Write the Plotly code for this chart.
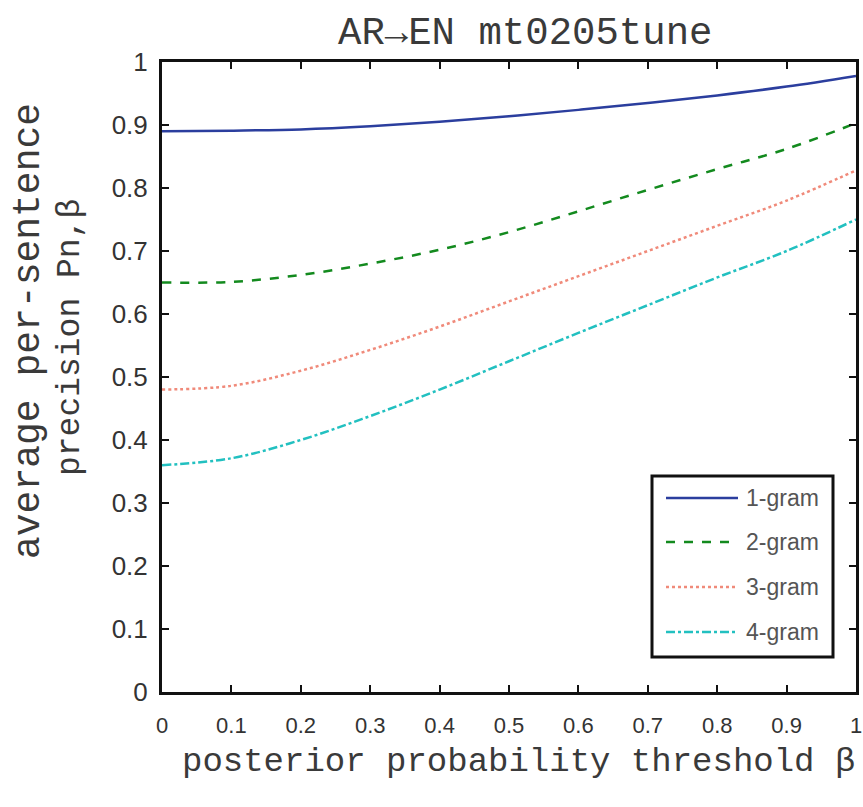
import plotly.graph_objects as go

beta = [0.0, 0.1, 0.2, 0.3, 0.4, 0.5, 0.6, 0.7, 0.8, 0.9, 1.0]
gram1 = [0.890, 0.891, 0.893, 0.898, 0.905, 0.914, 0.924, 0.935, 0.947, 0.961, 0.978]
gram2 = [0.650, 0.651, 0.662, 0.680, 0.702, 0.730, 0.763, 0.797, 0.830, 0.862, 0.903]
gram3 = [0.480, 0.486, 0.510, 0.543, 0.580, 0.620, 0.660, 0.700, 0.740, 0.780, 0.828]
gram4 = [0.360, 0.371, 0.400, 0.438, 0.480, 0.525, 0.570, 0.614, 0.658, 0.700, 0.750]

names = ["1-gram", "2-gram", "3-gram", "4-gram"]
colors = ["#2b3e9e", "#138a1e", "#f08a7a", "#22c0c0"]
dashes = ["solid", "dash", "dot", "dashdot"]
series = [gram1, gram2, gram3, gram4]

xticks = [0, 0.1, 0.2, 0.3, 0.4, 0.5, 0.6, 0.7, 0.8, 0.9, 1]
xticklabels = ["0", "0.1", "0.2", "0.3", "0.4", "0.5", "0.6", "0.7", "0.8", "0.9", "1"]
yticks = [0, 0.1, 0.2, 0.3, 0.4, 0.5, 0.6, 0.7, 0.8, 0.9, 1]
yticklabels = ["0", "0.1", "0.2", "0.3", "0.4", "0.5", "0.6", "0.7", "0.8", "0.9", "1"]

title_text = "AR\u2192EN mt0205tune"
xtitle_text = "posterior probability threshold \u03b2"
ytitle_lines = ["average per-sentence", "precision Pn,\u03b2"]

W, H = 863, 807
L, R, T, B = 162, 7, 62, 115
pw, ph = W - L - R, H - T - B

def px(xp):
    return (xp - L) / pw

def py(yp):
    return (H - B - yp) / ph

fig = go.Figure()
for n, c, d, s in zip(names, colors, dashes, series):
    fig.add_trace(go.Scatter(x=beta, y=s, mode="lines", name=n, showlegend=False,
                             line=dict(color=c, width=2.5, dash=d, shape="spline")))

mono = "Liberation Mono, Courier New, monospace"
sans = "Liberation Sans, Arial, sans-serif"

shapes = []
annotations = []

# legend box (manual)
shapes.append(dict(type="rect", xref="paper", yref="paper",
                   x0=px(652), x1=px(833), y0=py(657), y1=py(476),
                   line=dict(color="#111", width=3), fillcolor="white", layer="above"))
leg_y = [498, 542, 587, 632]
for n, c, d, yy in zip(names, colors, dashes, leg_y):
    shapes.append(dict(type="line", xref="paper", yref="paper",
                       x0=px(666), x1=px(738), y0=py(yy), y1=py(yy),
                       line=dict(color=c, width=2.5, dash=d), layer="above"))
    annotations.append(dict(text=n, xref="paper", yref="paper", x=px(744), y=py(yy),
                            xanchor="left", yanchor="middle", showarrow=False,
                            font=dict(family=sans, size=23, color="#555")))

# titles
annotations.append(dict(text=title_text, xref="paper", yref="paper", x=px(525), y=py(34),
                        xanchor="center", yanchor="middle", showarrow=False,
                        font=dict(family=mono, size=39, color="#3a3a3a")))
annotations.append(dict(text=xtitle_text, xref="paper", yref="paper", x=px(518), y=py(762),
                        xanchor="center", yanchor="middle", showarrow=False,
                        font=dict(family=mono, size=34, color="#3a3a3a")))
annotations.append(dict(text=ytitle_lines[0], xref="paper", yref="paper", x=px(28), y=py(331),
                        xanchor="center", yanchor="middle", showarrow=False, textangle=-90,
                        font=dict(family=mono, size=38, color="#3a3a3a")))
annotations.append(dict(text=ytitle_lines[1], xref="paper", yref="paper", x=px(70), y=py(338),
                        xanchor="center", yanchor="middle", showarrow=False, textangle=-90,
                        font=dict(family=mono, size=33, color="#3a3a3a")))

fig.update_layout(
    width=W, height=H,
    margin=dict(l=L, r=R, t=T, b=B, autoexpand=False),
    paper_bgcolor="white", plot_bgcolor="white",
    showlegend=False,
    shapes=shapes,
    annotations=annotations,
    xaxis=dict(range=[0, 1], tickvals=xticks, ticktext=xticklabels,
               ticks="inside", ticklen=7, tickwidth=2, tickcolor="#111",
               showline=True, linecolor="#111", linewidth=3, mirror="ticks",
               showgrid=False, zeroline=False, automargin=False, ticklabelstandoff=12,
               tickfont=dict(family=sans, size=22, color="#333")),
    yaxis=dict(range=[0, 1], tickvals=yticks, ticktext=yticklabels,
               ticks="inside", ticklen=7, tickwidth=2, tickcolor="#111",
               showline=True, linecolor="#111", linewidth=3, mirror="ticks",
               showgrid=False, zeroline=False, automargin=False, ticklabelstandoff=6,
               tickfont=dict(family=sans, size=26, color="#333")),
)

fig.write_html("out.html", config={"displayModeBar": False},
               post_script="document.body.style.margin='0';document.body.style.overflow='hidden';")
